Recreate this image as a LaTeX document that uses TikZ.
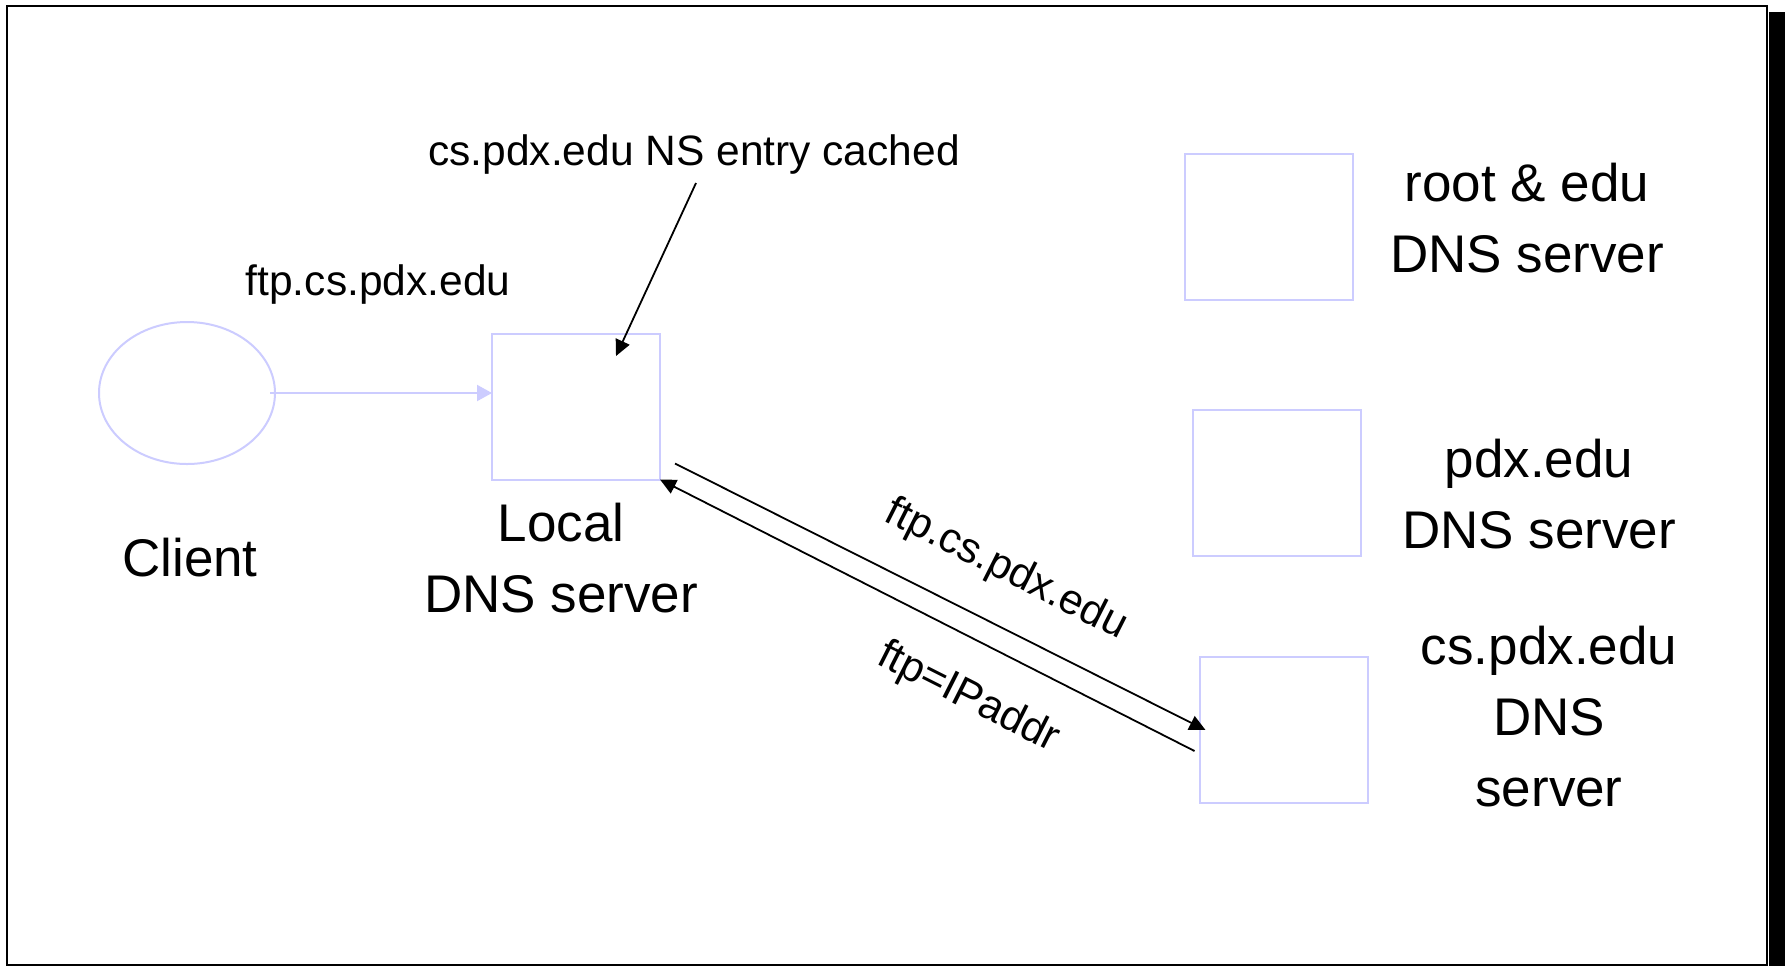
\documentclass[tikz,border=0pt]{standalone}
\usepackage{fontspec}
\setmainfont{Liberation Sans}
\usetikzlibrary{arrows.meta,shapes.geometric}
\definecolor{lav}{HTML}{CCCCFF}
\begin{document}
\begin{tikzpicture}[x=0.5pt,y=-0.5pt,
  box/.style={draw=lav,line width=1pt,minimum width=84pt,minimum height=73pt,inner sep=0pt,outer sep=0pt},
  big/.style={font=\fontsize{26.5pt}{35.5pt}\selectfont,align=center,inner sep=0pt},
  small/.style={font=\fontsize{21.25pt}{26pt}\selectfont,inner sep=0pt},
  blk/.style={draw=black,line width=0.9pt,-{Triangle[length=8pt,width=7.5pt]}},
  lavarrow/.style={draw=lav,line width=1pt,-{Triangle[length=7.5pt,width=8pt]}},
]
\useasboundingbox (0,0) rectangle (1785,966);
\fill[white] (0,0) rectangle (1785,966);
% frame
\draw[line width=0.7pt] (7,6) rectangle (1767,965);
\fill[black] (1769,12) rectangle (1785,966);

% nodes
\node[ellipse,draw=lav,line width=1pt,minimum width=88pt,minimum height=71pt,inner sep=0pt,outer sep=0pt] (client) at (187,393) {};
\node[box] (local) at (576,406.5) {};
\node[box] (root) at (1268.5,226.5) {};
\node[box] (pdx) at (1276.5,483) {};
\node[box] (cs) at (1283.5,730) {};

% labels
\node[big] (clientlbl) at (190,558) {Client};
\node[big] (locallbl) at (561,558.5) {Local\\DNS server};
\node[big] (rootlbl) at (1527,218) {root \& edu\\DNS server};
\node[big] (pdxlbl) at (1539,494.5) {pdx.edu\\DNS server};
\node[big] (cslbl) at (1549,716.5) {cs.pdx.edu\\DNS\\server};

\node[small] (qlbl) at (378,285) {ftp.cs.pdx.edu};
\node[small] (cachelbl) at (694,155) {cs.pdx.edu NS entry cached};
\node[small,rotate=-26.8] (q2lbl) at (1006,570) {ftp.cs.pdx.edu};
\node[small,rotate=-26.8] (replbl) at (968,698) {ftp=IPaddr};

% connectors
\coordinate (cachetail) at (696,183);
\coordinate (cachehead) at (616,356);
\draw[blk] (cachetail) -- (cachehead);

\draw[lavarrow] ([xshift=-2.5pt]client.east) -- (client.east -| local.west);

\coordinate (qstart) at ([shift={(15,-16)}]local.south east);
\coordinate (rstart) at ([shift={(-5,21)}]cs.west);
\draw[blk] (qstart) -- ([xshift=3pt]cs.west);
\draw[blk] (rstart) -- (local.south east);
\end{tikzpicture}
\end{document}
